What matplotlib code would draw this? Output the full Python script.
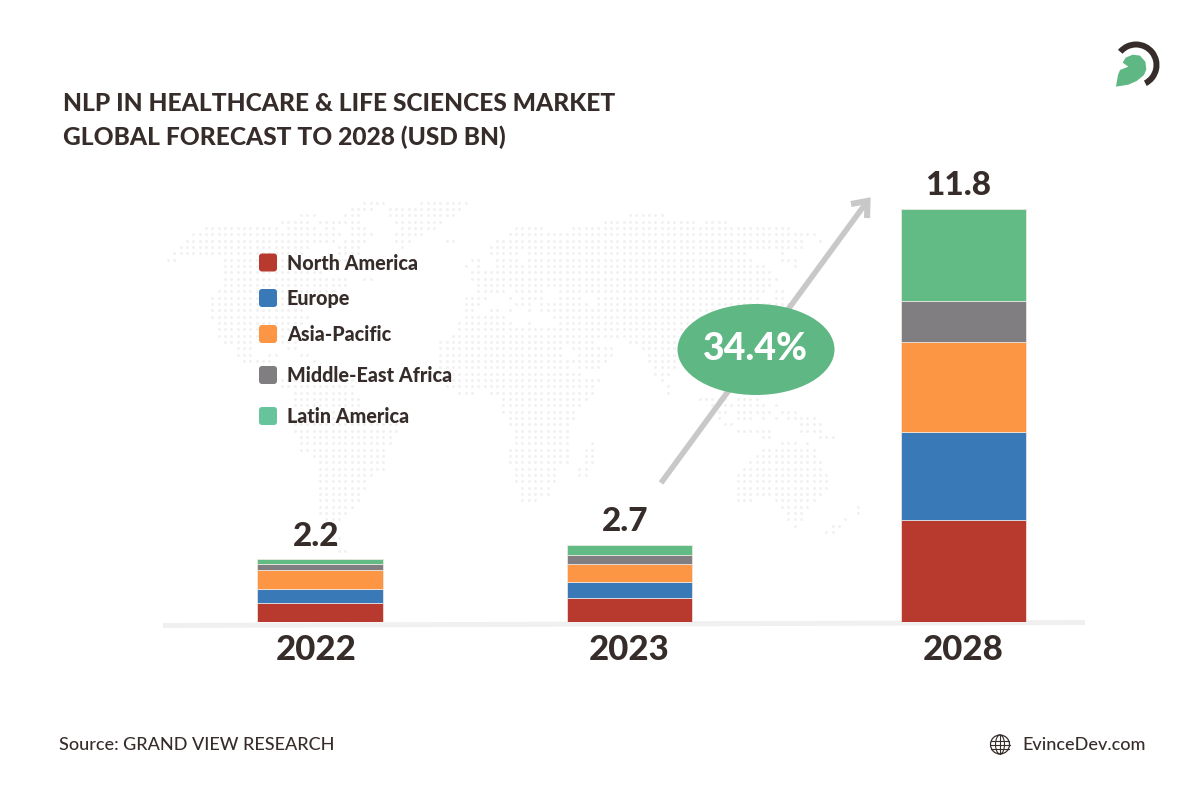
import numpy as np
import matplotlib
matplotlib.use("Agg")
import matplotlib.pyplot as plt
from matplotlib.patches import Ellipse, FancyBboxPatch, Wedge, Polygon, Circle
from matplotlib.transforms import ScaledTranslation

# ---- data ----
years = ["2022", "2023", "2028"]
totals = ["2.2", "2.7", "11.8"]
regions = ["North America", "Europe", "Asia-Pacific", "Middle-East Africa", "Latin America"]
north_america = [0.53, 0.66, 2.89]
europe = [0.39, 0.48, 2.52]
asia_pacific = [0.54, 0.50, 2.58]
middle_east_africa = [0.19, 0.26, 1.17]
latin_america = [0.13, 0.28, 2.64]
cagr = "34.4%"
title_lines = ["NLP IN HEALTHCARE & LIFE SCIENCES MARKET", "GLOBAL FORECAST TO 2028 (USD BN)"]
source = "Source: GRAND VIEW RESEARCH"
site = "EvinceDev.com"

# ---- style ----
DARK = "#362d2b"
bar_colors = ["#b8392e", "#3a79b7", "#fd9644", "#807e80", "#62bb85"]
legend_colors = ["#b8392e", "#3a79b7", "#fd9644", "#807e80", "#66c39b"]
bar_centers = [320, 629.5, 963.5]
BAR_W = 125.5
FONT = "Lato"
HEAVY = 900
plt.rcParams["font.family"] = [FONT, "DejaVu Sans"]

# decorative dotted world map: dot runs per grid row (pixel spans)
map_rows = [
 [(363,383),(420,465)],
 [(350,372),(388,460)],
 [(300,315),(343,360),(388,453),(627,662)],
 [(282,307),(320,360),(395,442),(602,693),(708,723)],
 [(205,278),(287,315),(325,330),(350,367),(400,435),(513,542),(570,580),(588,787)],
 [(193,342),(350,372),(395,422),(507,813)],
 [(187,333),(343,367),(395,408),(445,453),(500,520),(527,800),(817,817)],
 [(180,308),(337,360),(400,402),(493,513),(520,800)],
 [(173,197),(205,302),(337,360),(493,513),(527,747),(785,785)],
 [(168,177),(223,303),(342,348),(470,480),(500,513),(527,750),(785,792)],
 [(223,310),(463,463),(477,477),(495,763),(792,792)],
 [(223,317),(470,768)],
 [(223,347),(363,372),(470,775)],
 [(223,347),(477,768)],
 [(217,333),(477,503),(513,542),(558,577),(588,763),(778,785)],
 [(212,308),(463,485),(508,508),(520,542),(563,577),(600,757),(778,785)],
 [(212,308),(463,478),(513,520),(527,527),(540,587),(600,790)],
 [(212,302),(463,473),(488,500),(508,508),(527,527),(540,770)],
 [(212,308),(463,503),(552,720)],
 [(218,303),(457,510),(527,527),(558,720)],
 [(218,290),(457,700)],
 [(218,283),(450,593),(600,690)],
 [(225,253),(285,297),(443,555),(563,593),(627,690)],
 [(238,252),(287,297),(443,560),(573,612),(640,690)],
 [(238,253),(268,277),(300,308),(438,560),(578,612),(647,690)],
 [(243,267),(312,312),(438,567),(575,605),(647,672)],
 [(438,567),(582,598),(653,672)],
 [(438,580),(653,665)],
 [(280,352),(440,598),(660,660)],
 [(280,352),(445,590),(665,665)],
 [(293,353),(457,472),(488,590),(665,665)],
 [(293,360),(502,585),(702,727),(740,755)],
 [(293,360),(502,578),(710,723),(733,755),(765,765),(778,778)],
 [(300,360),(502,573),(715,723),(735,755),(760,768),(785,793)],
 [(300,390),(508,573),(720,720),(740,748),(760,760),(778,778),(790,812)],
 [(293,397),(508,567),(722,730),(803,818)],
 [(293,397),(513,567),(735,760),(772,772),(803,823)],
 [(300,392),(513,567),(760,767),(823,830)],
 [(300,392),(513,567),(590,590),(785,792),(810,810)],
 [(300,385),(508,567),(583,592),(765,792),(803,812)],
 [(312,385),(508,567),(583,592),(758,812)],
 [(318,385),(508,567),(583,592),(753,818)],
 [(318,385),(513,555),(577,585),(747,818)],
 [(318,372),(513,555),(577,585),(740,825)],
 [(318,365),(513,555),(740,825)],
 [(318,365),(520,548),(740,825)],
 [(318,360),(520,548),(740,818)],
 [(318,360),(520,535),(740,748),(778,812)],
 [(318,353),(785,805),(860,860)],
 [(318,347),(790,798),(860,860)],
 [(325,340),(790,798),(848,848)],
 [(792,792),(835,842)],
 [(828,835)],
 [(328,340)],
 [],
 [(338,345)],
]

fig = plt.figure(figsize=(12, 8), dpi=100, facecolor="white")

# ---- pixel-space layer for decoration and free text ----
deco = fig.add_axes([0, 0, 1, 1], zorder=0)
deco.set_xlim(0, 1200)
deco.set_ylim(800, 0)
deco.axis("off")

PITCH = 6.33
xs, ys = [], []
for i, row in enumerate(map_rows):
    y = 202.7 + PITCH * i
    for a, b in row:
        k0 = int(np.round((a - 168) / PITCH))
        k1 = int(np.round((b - 168) / PITCH))
        for k in range(k0, k1 + 1):
            xs.append(168 + PITCH * k)
            ys.append(y)
deco.scatter(xs, ys, s=4.6, color="#f1f1f1", linewidths=0, zorder=1)

# ground strip
deco.plot([163, 1085], [625.5, 622.5], color="#f0f0f0", lw=3.6, solid_capstyle="butt", zorder=2)

# growth arrow
ARROW = "#c8c8c8"
deco.plot([661, 866], [483, 203], color=ARROW, lw=4.0, solid_capstyle="butt", zorder=3)
deco.plot([851, 867.5, 867], [204, 201, 218], color=ARROW, lw=4.4,
          solid_joinstyle="miter", solid_capstyle="butt", zorder=3)

# CAGR ellipse
deco.add_patch(Ellipse((756, 349.5), 157, 91, color="#5fb784", lw=0, zorder=4))
deco.text(755.5, 349, cagr, color="white", fontsize=27, fontweight=HEAVY,
          ha="center", va="center", zorder=5)

# title
for line, y in zip(title_lines, [103.5, 137.5]):
    deco.text(63, y, line, color=DARK, fontsize=17.65, fontweight=HEAVY, ha="left", va="center")

# legend
legend_tops = [253.5, 289, 325, 366, 407]
legend_text_y = [263.5, 298.5, 334.5, 375.5, 416.5]
for name, col, top, ty in zip(regions, legend_colors, legend_tops, legend_text_y):
    deco.add_patch(FancyBboxPatch((261, top + 2), 14, 14,
                                  boxstyle="round,pad=2,rounding_size=3",
                                  facecolor=col, edgecolor="none", zorder=6))
    deco.text(287, ty, name, color=DARK, fontsize=14.2, fontweight=HEAVY,
              ha="left", va="center", zorder=6)

# footer
deco.text(59, 744.5, source, color=DARK, fontsize=13, fontweight="medium", ha="left", va="center")
deco.text(1022, 745.5, site, color=DARK, fontsize=13, fontweight="medium", ha="left", va="center")

# globe icon
GC = (1000, 744.5)
deco.add_patch(Circle(GC, 9.5, fill=False, ec=DARK, lw=0.9))
deco.add_patch(Ellipse(GC, 9, 19, fill=False, ec=DARK, lw=0.8))
deco.plot([GC[0], GC[0]], [GC[1] - 9.5, GC[1] + 9.5], color=DARK, lw=0.8)
for dy, hw in [(-4, 8.6), (0, 9.5), (4, 8.6)]:
    deco.plot([GC[0] - hw, GC[0] + hw], [GC[1] + dy] * 2, color=DARK, lw=0.8)

# logo
deco.add_patch(Wedge((1136, 65), 23.5, -140, 63, width=6, facecolor=DARK, edgecolor="none"))
leaf = [(468,200),(474,165),(480,150),(505,140),(488,128),(497,113),(518,104),(540,107),
        (556,125),(559,148),(552,165),(530,183),(505,194)]
deco.add_patch(Polygon([(960 + x / 3, 20 + y / 3) for x, y in leaf],
                       closed=True, facecolor="#5fb784", edgecolor="none"))

# ---- bar layer ----
ax = fig.add_axes([0, (800 - 621.5) / 800, 1, 412.5 / 800], zorder=1)
ax.patch.set_alpha(0)
ax.set_xlim(0, 1200)
ax.set_ylim(0, 11.8)
series = [north_america, europe, asia_pacific, middle_east_africa, latin_america]
bottom = np.zeros(len(years))
for vals, col in zip(series, bar_colors):
    ax.bar(bar_centers, vals, width=BAR_W, bottom=bottom, color=col,
           edgecolor="#f4ece6", linewidth=0.5)
    bottom += np.array(vals)

for x, top, label, dx, dy in zip(bar_centers, bottom, totals, [-4, -4.5, -5], [5.8, 6.8, 6.5]):
    ax.annotate(label, (x, top), xytext=(dx * 0.72, dy), textcoords="offset points",
                ha="center", va="bottom", color=DARK, fontsize=24, fontweight=HEAVY)

for s in ax.spines.values():
    s.set_visible(False)
ax.set_yticks([])
ax.set_xticks(bar_centers)
ax.set_xticklabels(years, fontsize=25, fontweight=HEAVY, color=DARK)
ax.tick_params(axis="x", length=0, pad=9)
lab0 = ax.get_xticklabels()[0]
lab0.set_transform(lab0.get_transform() + ScaledTranslation(-4 / 100, 0, fig.dpi_scale_trans))

fig.savefig("out.png", dpi=100, facecolor="white")
